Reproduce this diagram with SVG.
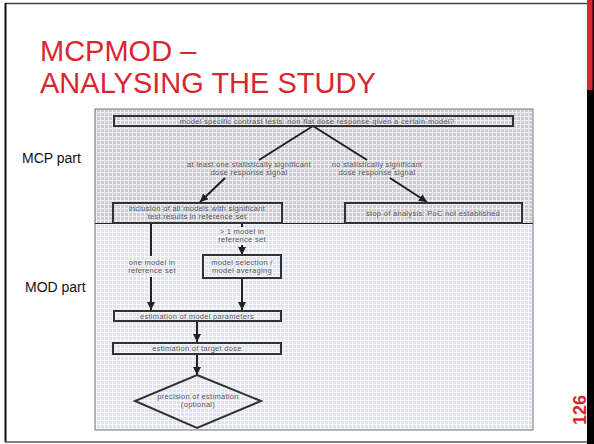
<svg xmlns="http://www.w3.org/2000/svg" width="594" height="444" viewBox="0 0 594 444">
<style>
.title{font-family:"Liberation Sans",Arial,sans-serif;font-size:29px;fill:#d7282f}
.side{font-family:"Liberation Sans",Arial,sans-serif;font-size:14px;fill:#111}
.t{font-family:"Liberation Sans",Arial,sans-serif;font-size:7.5px;letter-spacing:0.3px;fill:#5a5a5a;text-anchor:middle}
.box{fill:none;stroke:#333;stroke-width:2}
.con{stroke:#222;stroke-width:2;fill:none}
.arr{marker-end:url(#ah)}
</style>
<defs>
<pattern id="pMCP" width="4" height="4" patternUnits="userSpaceOnUse">
<rect width="4" height="4" fill="#cbccd4"/>
<rect width="4" height="1" fill="#f0f0f3"/>
<rect width="1" height="4" fill="#f0f0f3"/>
</pattern>
<pattern id="pMOD" width="4" height="4" patternUnits="userSpaceOnUse">
<rect width="4" height="4" fill="#dfe2ef"/>
<rect width="4" height="1" fill="#f7f8fb"/>
<rect width="1" height="4" fill="#f7f8fb"/>
</pattern>
<marker id="ah" viewBox="0 0 10 10" refX="10" refY="5" markerWidth="8" markerHeight="8" markerUnits="userSpaceOnUse" orient="auto">
<path d="M0,0 L10,5 L0,10 z" fill="#222"/>
</marker>
</defs>

<g id="frame">
<rect x="0" y="0" width="594" height="444" fill="#fff"/>
<line x1="5" y1="3.5" x2="588" y2="3.5" stroke="#444" stroke-width="1.5"/>
<line x1="5.5" y1="3" x2="5.5" y2="442" stroke="#111" stroke-width="2"/>
<line x1="5" y1="442" x2="588" y2="442" stroke="#555" stroke-width="1.5"/>
<rect x="587" y="0" width="7" height="444" fill="#000"/>
<rect x="587" y="0" width="5.5" height="90" fill="#d7282f"/>
</g>

<g id="title">
<text class="title" x="40" y="61">MCPMOD –</text>
<text class="title" x="40" y="93">ANALYSING THE STUDY</text>
</g>

<g id="page-number">
<text transform="translate(586,425) rotate(-90)" font-family="Liberation Sans,Arial,sans-serif" font-size="18" font-weight="bold" fill="#d7282f">126</text>
</g>

<g id="labels">
<text class="side" x="22" y="163">MCP part</text>
<text class="side" x="25" y="292">MOD part</text>
</g>

<g id="panel">
<rect x="95" y="109" width="438" height="115" fill="url(#pMCP)"/>
<rect x="95" y="224" width="438" height="206" fill="url(#pMOD)"/>
<rect x="95" y="109" width="438" height="321" fill="none" stroke="#777" stroke-width="1"/>
<line x1="95" y1="223.5" x2="533" y2="223.5" stroke="#222" stroke-width="1"/>
</g>

<g id="connectors">
<line class="con" x1="313" y1="126" x2="259" y2="160"/>
<line class="con" x1="313" y1="126" x2="367" y2="160"/>
<line class="con arr" x1="225" y1="178" x2="200" y2="202"/>
<line class="con arr" x1="390" y1="178" x2="427" y2="202"/>
<line class="con" x1="151" y1="223" x2="151" y2="256"/>
<line class="con arr" x1="151" y1="277" x2="151" y2="310"/>
<line class="con" x1="242" y1="223" x2="242" y2="227"/>
<line class="con arr" x1="242" y1="245" x2="242" y2="255"/>
<line class="con arr" x1="242" y1="278" x2="242" y2="310"/>
<line class="con arr" x1="197" y1="321" x2="197" y2="342"/>
<line class="con arr" x1="197" y1="354" x2="197" y2="375"/>
<text class="t" x="249" y="167">at least one statistically significant</text>
<text class="t" x="249" y="175">dose response signal</text>
<text class="t" x="377" y="167">no statistically significant</text>
<text class="t" x="377" y="175">dose response signal</text>
<text class="t" x="152" y="265">one model in</text>
<text class="t" x="152" y="273">reference set</text>
<text class="t" x="242" y="234">&gt; 1 model in</text>
<text class="t" x="242" y="242">reference set</text>
</g>

<g id="n-contrast">
<rect class="box" x="114" y="116" width="399" height="10"/>
<text class="t" x="317" y="123.5">model specific contrast tests: non flat dose response given a certain model?</text>
</g>
<g id="n-inclusion">
<rect class="box" x="113" y="203" width="169" height="20"/>
<text class="t" x="197" y="211">inclusion of all models with significant</text>
<text class="t" x="197" y="219">test results in reference set</text>
</g>
<g id="n-stop">
<rect class="box" x="345" y="203" width="177" height="20"/>
<text class="t" x="433" y="215.5">stop of analysis: PoC not established</text>
</g>
<g id="n-selection">
<rect class="box" x="203" y="255" width="78" height="23"/>
<text class="t" x="242" y="264.5">model selection /</text>
<text class="t" x="242" y="272.5">model averaging</text>
</g>
<g id="n-parameters">
<rect class="box" x="114" y="311" width="167" height="10"/>
<text class="t" x="197" y="318.5">estimation of model parameters</text>
</g>
<g id="n-target">
<rect class="box" x="113" y="343" width="168" height="11"/>
<text class="t" x="197" y="351">estimation of target dose</text>
</g>
<g id="n-precision">
<polygon class="box" points="197,375 261,401 197,428 135,401"/>
<text class="t" x="198" y="399">precision of estimation</text>
<text class="t" x="198" y="407">(optional)</text>
</g>
</svg>
